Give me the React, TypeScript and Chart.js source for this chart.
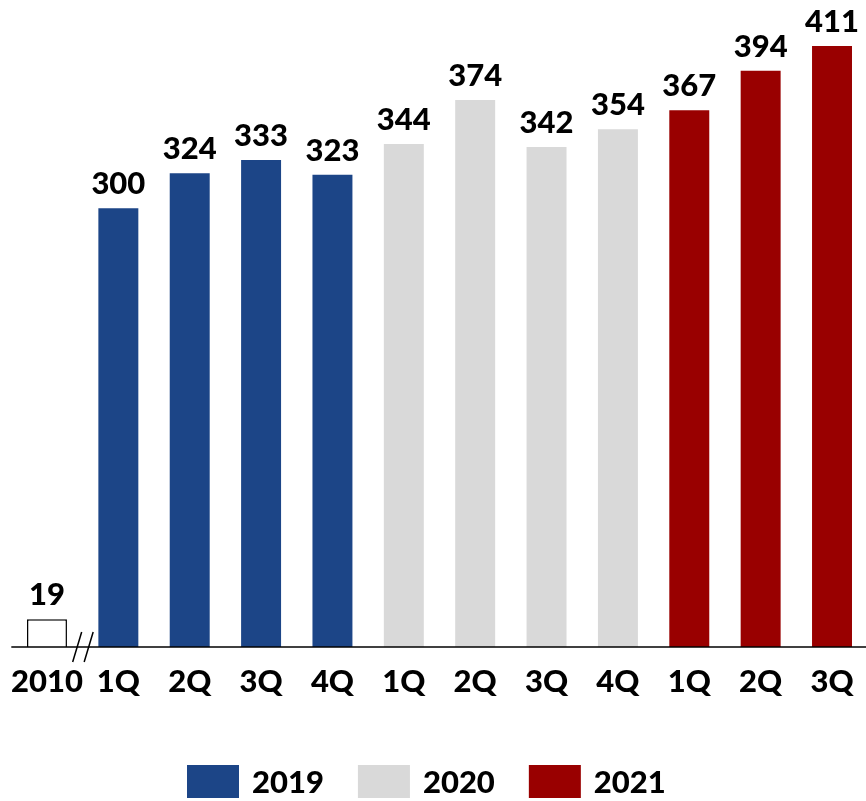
import React, { useEffect, useRef } from "react";
import { Chart, registerables } from "chart.js";

Chart.register(...registerables);

const categories = ["2010", "1Q", "2Q", "3Q", "4Q", "1Q", "2Q", "3Q", "4Q", "1Q", "2Q", "3Q"];
const values = [19, 300, 324, 333, 323, 344, 374, 342, 354, 367, 394, 411];
const groups = ["2010", "2019", "2019", "2019", "2019", "2020", "2020", "2020", "2020", "2021", "2021", "2021"];
const legendYears = ["2019", "2020", "2021"];
const yearColors: Record<string, string> = {
  "2010": "#FFFFFF",
  "2019": "#1C4587",
  "2020": "#D9D9D9",
  "2021": "#990000",
};

const FAMILY = "Lato, Calibri, 'Open Sans', sans-serif";
const WEIGHT = "900";
const FONT = `${WEIGHT} 31px ${FAMILY}`;

const overlay = {
  id: "overlay",
  afterDatasetsDraw(chart: any) {
    const ctx = chart.ctx as CanvasRenderingContext2D;
    const area = chart.chartArea;
    const meta = chart.getDatasetMeta(0);
    const b = area.bottom;
    ctx.save();
    // axis line
    ctx.strokeStyle = "#000";
    ctx.lineWidth = 1.5;
    ctx.beginPath();
    ctx.moveTo(area.left, b);
    ctx.lineTo(chart.width, b);
    ctx.stroke();
    // axis break marks between 2010 and the quarters
    const xb = (meta.data[0].x + meta.data[1].x) / 2;
    ctx.beginPath();
    ctx.moveTo(xb - 10, b + 15);
    ctx.lineTo(xb - 1, b - 15);
    ctx.moveTo(xb + 1.5, b + 15);
    ctx.lineTo(xb + 10.5, b - 15);
    ctx.stroke();
    // value labels
    ctx.fillStyle = "#000";
    ctx.font = FONT;
    ctx.textAlign = "center";
    ctx.textBaseline = "alphabetic";
    meta.data.forEach((el: any, i: number) => {
      ctx.fillText(String(values[i]), el.x, el.y - 14);
    });
    // legend
    let x = 187;
    const boxTop = 765;
    legendYears.forEach((yr) => {
      ctx.fillStyle = yearColors[yr];
      ctx.fillRect(x, boxTop, 52, 33);
      ctx.fillStyle = "#000";
      ctx.textAlign = "left";
      const tx = x + 52 + 13;
      ctx.fillText(yr, tx, 793);
      x = tx + ctx.measureText(yr).width + 34;
    });
    ctx.restore();
  },
};

export default function App() {
  const ref = useRef<HTMLCanvasElement>(null);
  useEffect(() => {
    if (!ref.current) return;
    const chart = new Chart(ref.current, {
      type: "bar",
      data: {
        labels: categories,
        datasets: [
          {
            data: values,
            backgroundColor: groups.map((g) => yearColors[g]),
            borderColor: groups.map((g) => (g === "2010" ? "#000" : yearColors[g])),
            borderWidth: groups.map((g) => (g === "2010" ? 1.5 : 0)),
            borderSkipped: "bottom",
            categoryPercentage: 1,
            barPercentage: 0.56,
          },
        ],
      },
      options: {
        responsive: false,
        animation: false,
        layout: { padding: { top: 3.6, left: 11.3, right: 2.3, bottom: 94 } },
        plugins: { legend: { display: false }, tooltip: { enabled: false } },
        scales: {
          x: {
            grid: { display: false },
            border: { display: false },
            ticks: {
              color: "#000",
              font: { family: FAMILY, size: 31, weight: WEIGHT as any },
              padding: 8,
              maxRotation: 0,
              autoSkip: false,
            },
            afterFit: (scale: any) => {
              scale.height = 60;
            },
          },
          y: { display: false, min: 0, max: 440 },
        },
      },
      plugins: [overlay],
    });
    return () => chart.destroy();
  }, []);
  return (
    <div style={{ position: "fixed", left: 0, top: 0, width: 866, height: 801, overflow: "hidden", background: "#fff" }}>
      <canvas ref={ref} width={870} height={801} style={{ display: "block" }} />
    </div>
  );
}
